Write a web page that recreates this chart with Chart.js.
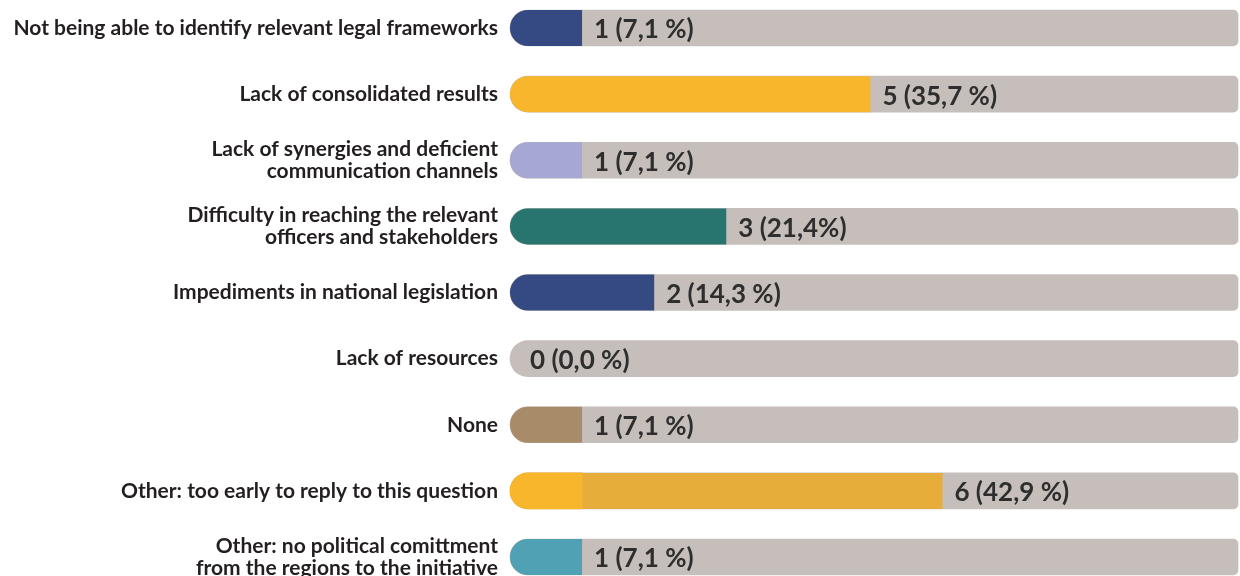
<!DOCTYPE html>
<html>
<head>
<meta charset="utf-8">
<script src="https://cdn.jsdelivr.net/npm/chart.js@4/dist/chart.umd.min.js"></script>
<style>
  body { margin: 0; background: #fff; }
  #wrap { width: 1240px; height: 576px; }
</style>
</head>
<body>
<div id="wrap"><canvas id="myChart"></canvas></div>
<script>
const categories = [
    'Not being able to identify relevant legal frameworks',
    'Lack of consolidated results',
    ['Lack of synergies and deficient', 'communication channels'],
    ['Difficulty in reaching the relevant', 'officers and stakeholders'],
    'Impediments in national legislation',
    'Lack of resources',
    'None',
    'Other: too early to reply to this question',
    ['Other: no political comittment', 'from the regions to the initiative']
];
const counts = [1, 5, 1, 3, 2, 0, 1, 6, 1];
const percents = ['7,1 %', '35,7 %', '7,1 %', '21,4%', '14,3 %', '0,0 %', '7,1 %', '42,9 %', '7,1 %'];
// first slice of the "too early" bar has a lighter yellow
const firstSlice = [null, null, null, null, null, null, null, 1, null];
const trackMax = 10.1;

const colors = ['#354982', '#F7B62B', '#A6A7D3', '#28746F', '#354982', '#C6BEBB', '#A88B69', '#E7AD3B', '#4FA1B3'];

(()=>{
    const ctx = document.getElementById('myChart');
    Chart.defaults.font.family = 'Lato';

    const valueLabels = {
        id: 'valueLabels',
        afterDatasetsDraw(chart) {
            const c = chart.ctx;
            const meta = chart.getDatasetMeta(1);
            c.save();
            c.font = 'bold 26px Lato';
            c.fillStyle = '#2e2e2e';
            c.textBaseline = 'middle';
            c.textAlign = 'left';
            meta.data.forEach((bar, i) => {
                const x = Math.max(bar.x, bar.base + 8) + 12;
                c.fillText(counts[i] + ' (' + percents[i] + ')', x, bar.y + 2);
            });
            c.restore();
        }
    };

    new Chart(ctx, {
        type: 'bar',
        data: {
            labels: categories,
            datasets: [
                {
                    label: 'first',
                    data: firstSlice,
                    backgroundColor: '#F7B62B',
                    borderRadius: {topLeft: 18, bottomLeft: 18, topRight: 0, bottomRight: 0},
                    borderSkipped: false,
                    clip: false
                },
                {
                    label: 'count',
                    data: counts,
                    backgroundColor: (c) => counts[c.dataIndex] === 0 ? 'rgba(0,0,0,0)' : colors[c.dataIndex],
                    borderRadius: {topLeft: 18, bottomLeft: 18, topRight: 0, bottomRight: 0},
                    borderSkipped: false,
                    inflateAmount: 0,
                    clip: false
                },
                {
                    label: 'track',
                    data: categories.map(() => trackMax),
                    backgroundColor: '#C6BEBB',
                    borderRadius: {topLeft: 18, bottomLeft: 18, topRight: 5, bottomRight: 5},
                    borderSkipped: false,
                    clip: false
                }
            ]
        },
        options: {
            indexAxis: 'y',
            responsive: true,
            maintainAspectRatio: false,
            animation: false,
            layout: { padding: { top: 28, bottom: 19, right: 2, left: 0 } },
            datasets: {
                bar: { grouped: false, barThickness: 36 }
            },
            plugins: {
                legend: { display: false },
                tooltip: { enabled: false }
            },
            scales: {
                x: {
                    display: false,
                    min: 0,
                    max: trackMax
                },
                y: {
                    offset: false,
                    grid: { display: false },
                    border: { display: false },
                    ticks: {
                        padding: 4,
                        color: '#231F20',
                        font: { size: 21, weight: 'bold', lineHeight: 1.05 }
                    },
                    afterFit(scale) {
                        scale.width = 510;
                        scale.paddingTop = 0;
                        scale.paddingBottom = 0;
                    }
                }
            }
        },
        plugins: [valueLabels]
    });
})()
</script>
</body>
</html>
